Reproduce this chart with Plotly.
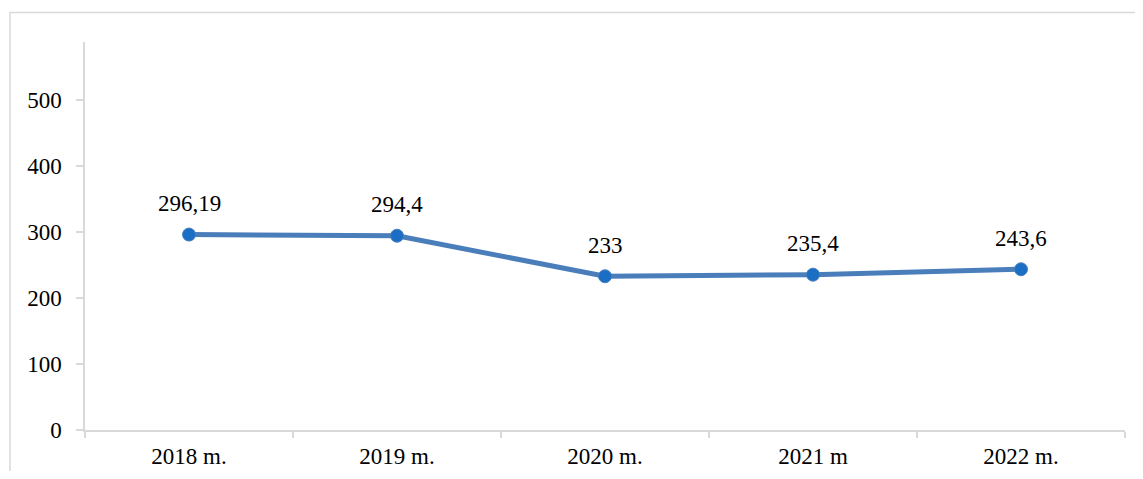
import plotly.graph_objects as go

categories = ["2018 m.", "2019 m.", "2020 m.", "2021 m", "2022 m."]
values = [296.19, 294.4, 233, 235.4, 243.6]
labels = ["296,19", "294,4", "233", "235,4", "243,6"]
y_ticks = [0, 100, 200, 300, 400, 500]

FONT = "Liberation Serif, Times New Roman, serif"
OFF = 8  # default page body margin
W, H = 1143 - 2 * OFF, 479 - 2 * OFF
ml, mt = 85 - OFF, 42 - OFF
mr = W - (1125 - OFF)
mb = H - (430 - OFF)

fig = go.Figure()
fig.add_trace(go.Scatter(
    x=categories, y=values, mode="lines+markers",
    line=dict(color="#4a7ebb", width=5),
    marker=dict(size=13, color="#1a6fc4", line=dict(color="#4a7ebb", width=1)),
    hoverinfo="skip", cliponaxis=False,
))
for c, v, t in zip(categories, values, labels):
    fig.add_annotation(x=c, y=v, text=t, showarrow=False, yshift=31,
                       font=dict(family=FONT, size=23, color="#000000"))

pw = W - ml - mr
ph = H - mt - mb
fig.add_shape(type="rect", xref="paper", yref="paper",
              x0=(10 - OFF - ml) / pw, x1=(W + 20 - ml) / pw,
              y0=-(mb + 20) / ph, y1=1 + (mt - (12.5 - OFF)) / ph,
              line=dict(color="#d9d9d9", width=1.5), fillcolor="rgba(0,0,0,0)", layer="below")

fig.update_layout(
    width=W, height=H,
    margin=dict(l=ml, r=mr, t=mt, b=mb),
    paper_bgcolor="white", plot_bgcolor="white",
    showlegend=False,
    font=dict(family=FONT, size=23, color="#000000"),
    xaxis=dict(
        type="category", showgrid=False, zeroline=False, automargin=False,
        showline=True, linecolor="#d9d9d9", linewidth=1.5,
        ticks="outside", tickson="boundaries", ticklen=6, tickcolor="#d9d9d9", tickwidth=1.5,
        ticklabelstandoff=5, range=[-0.5, 4.5],
    ),
    yaxis=dict(
        range=[0, 588], tickvals=y_ticks, showgrid=False, zeroline=False, automargin=False,
        showline=True, linecolor="#d9d9d9", linewidth=1.5,
        ticks="outside", ticklen=7, tickcolor="#d9d9d9", tickwidth=1.5,
        ticklabelstandoff=10,
    ),
)

fig.write_html("out.html")
